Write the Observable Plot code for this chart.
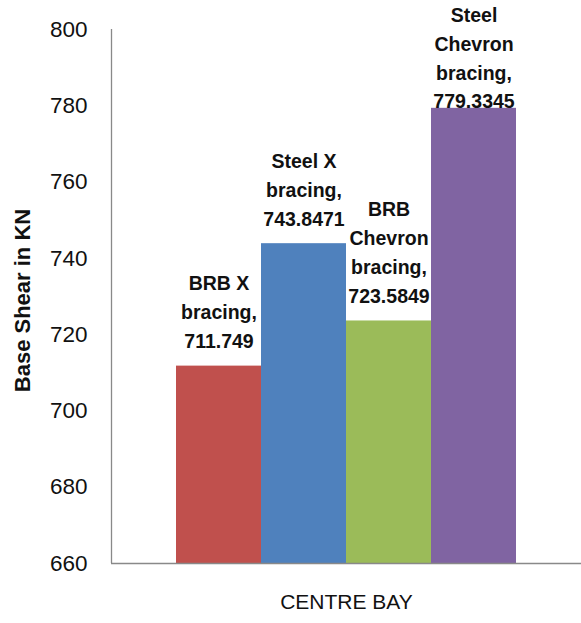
<!DOCTYPE html>
<html>
<head>
<meta charset="utf-8">
<script src="https://cdn.jsdelivr.net/npm/d3@7"></script>
<script src="https://cdn.jsdelivr.net/npm/@observablehq/plot@0.6"></script>
<style>
  html, body { margin: 0; padding: 0; background: #fff; }
  #chart svg { display: block; }
</style>
</head>
<body>
<div id="chart"></div>
<script>
// ---- data ----
const series = ["BRB X bracing", "Steel X bracing", "BRB Chevron bracing", "Steel Chevron bracing"];
const values = [711.749, 743.8471, 723.5849, 779.3345];
const labelNames = ["BRB X\nbracing,", "Steel X\nbracing,", "BRB\nChevron\nbracing,", "Steel\nChevron\nbracing,"];
const valueText = ["711.749", "743.8471", "723.5849", "779.3345"];
const colors = ["#C0504D", "#4F81BD", "#9BBB59", "#8064A2"];
const groupLabel = "CENTRE BAY";
const yTicks = [660, 680, 700, 720, 740, 760, 780, 800];
const yTitle = "Base Shear in KN";

const yDomain = [660, 800];
const labelCap = 774.6; // data labels are kept inside the chart area (as in the original)

const data = series.map((s, i) => ({
  series: s, value: values[i], label: labelNames[i] + "\n" + valueText[i]
}));

const axisColor = "#898989";
const font = "'Liberation Sans', Arial, sans-serif";

const axisLines = (index, scales, values, dim) => {
  const g = d3.create("svg:g");
  const x0 = dim.marginLeft, x1 = dim.width - dim.marginRight;
  const y0 = dim.marginTop, y1 = dim.height - dim.marginBottom;
  g.append("line").attr("x1", x0 + 0.5).attr("x2", x0 + 0.5).attr("y1", y0).attr("y2", y1)
    .attr("stroke", axisColor).attr("stroke-width", 1.3);
  g.append("line").attr("x1", x0).attr("x2", x1).attr("y1", y1 + 0.5).attr("y2", y1 + 0.5)
    .attr("stroke", axisColor).attr("stroke-width", 1.3);
  return g.node();
};

const chart = Plot.plot({
  width: 581,
  height: 623,
  marginLeft: 111,
  marginRight: 0,
  marginTop: 29,
  marginBottom: 60,
  style: { fontFamily: font, background: "#fff", color: "#111" },
  x: { type: "band", domain: series, paddingInner: 0, paddingOuter: 0.757, axis: null },
  y: { domain: yDomain, ticks: yTicks },
  color: { domain: series, range: colors },
  marks: [
    Plot.barY(data, { x: "series", y1: yDomain[0], y2: "value", fill: "series", inset: 0 }),
    axisLines,
    Plot.axisY({ ticks: yTicks, tickSize: 0, tickPadding: 24, fontSize: 22.5, label: null, fill: "#111" }),
    Plot.text([yTitle], {
      text: d => d, frameAnchor: "left", textAnchor: "middle", dx: -89, dy: 4, rotate: -90,
      fontSize: 22, fontWeight: "bold", fill: "#111"
    }),
    Plot.text(data, {
      x: "series", y: d => Math.min(d.value, labelCap), text: "label",
      lineAnchor: "bottom", dy: -18, lineHeight: 1.48,
      fontSize: 19.5, fontWeight: "bold", fill: "#111"
    }),
    Plot.text([groupLabel], {
      text: d => d, frameAnchor: "bottom", dy: 45, fontSize: 21, fill: "#111"
    })
  ]
});

document.getElementById("chart").appendChild(chart);
</script>
</body>
</html>
